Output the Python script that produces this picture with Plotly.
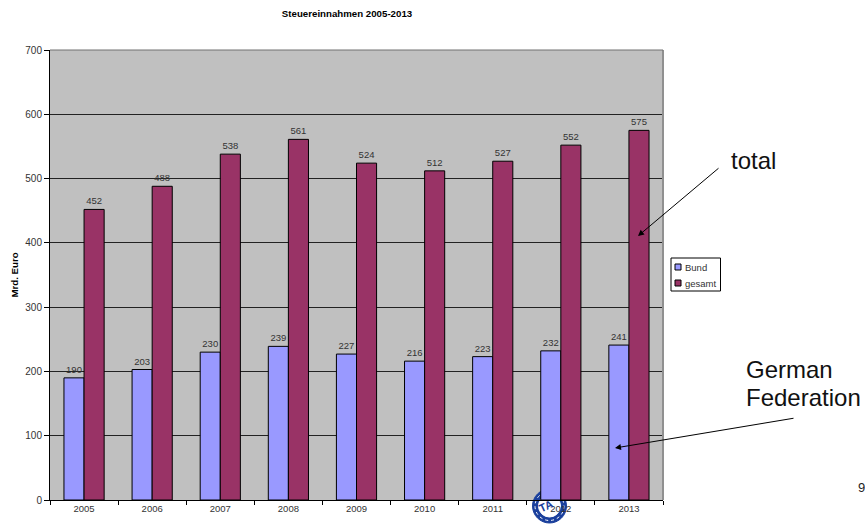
import plotly.graph_objects as go

years = ["2005", "2006", "2007", "2008", "2009", "2010", "2011", "2012", "2013"]
bund = [190, 203, 230, 239, 227, 216, 223, 232, 241]
gesamt = [452, 488, 538, 561, 524, 512, 527, 552, 575]
y_ticks = [0, 100, 200, 300, 400, 500, 600, 700]
legend_names = ["Bund", "gesamt"]
colors = ["#9999FF", "#993366"]

W, H = 865, 524
L, R, T, B = 50, 663, 50, 500
FONT = "Liberation Sans, Arial, sans-serif"

def px(x):
    return (x - L) / (R - L)

def py(y):
    return (B - y) / (B - T)

def box(kind, x0, y0, x1, y1, fill, line, width=1, layer="above", dash="solid"):
    return dict(type=kind, xref="paper", yref="paper", x0=px(x0), x1=px(x1), y0=py(y0), y1=py(y1),
                fillcolor=fill, layer=layer, line=dict(color=line, width=width, dash=dash))

def label(text, x, y, size, xanchor="left", color="#111111", **kw):
    return dict(text=text, xref="paper", yref="paper", x=px(x), y=py(y), xanchor=xanchor,
                yanchor="middle", showarrow=False, font=dict(size=size, color=color, family=FONT), **kw)

def arrow(x, y, x_from, y_from):
    return dict(text="", xref="paper", yref="paper", axref="pixel", ayref="pixel",
                x=px(x), y=py(y), ax=x_from - x, ay=y_from - y, showarrow=True, arrowhead=2,
                arrowsize=1.2, arrowwidth=1, arrowcolor="black")

fig = go.Figure()
for name, vals, col in zip(legend_names, [bund, gesamt], colors):
    fig.add_trace(go.Bar(
        name=name, x=years, y=vals, marker=dict(color=col, line=dict(color="black", width=1)),
        text=vals, textposition="outside", cliponaxis=False, showlegend=False,
        textfont=dict(size=9.5, color="#333333", family=FONT),
    ))

legend_shapes = [box("rect", 671, 258, 720.5, 291, "white", "black")]
legend_labels = []
for i, (name, col) in enumerate(zip(legend_names, colors)):
    yc = 267 + i * 16
    legend_shapes.append(box("rect", 675, yc - 3, 681, yc + 3, col, "black"))
    legend_labels.append(label(name, 683, yc, 9.5, color="#333333"))

fig.update_layout(
    width=W, height=H, autosize=False,
    margin=dict(l=L, r=W - R, t=T, b=H - B, autoexpand=False),
    paper_bgcolor="white", plot_bgcolor="#C0C0C0",
    barmode="group", bargap=0.41, bargroupgap=0,
    font=dict(family=FONT, size=9.5, color="#333333"),
    showlegend=False,
    title=dict(text="<b>Steuereinnahmen 2005-2013</b>", x=347 / W, xanchor="center",
               y=1 - 14 / H, yanchor="middle", font=dict(size=9.7, family=FONT, color="black")),
    xaxis=dict(showgrid=False, ticks="outside", ticklen=4, tickcolor="black", tickwidth=1,
               showline=True, linecolor="black", linewidth=1, tickfont=dict(size=9.5),
               tickson="boundaries", zeroline=False),
    yaxis=dict(range=[0, 700], tickvals=y_ticks, showgrid=True, gridcolor="#222222", gridwidth=1,
               ticks="outside", ticklen=5, tickcolor="black", showline=True, linecolor="black",
               linewidth=1, tickfont=dict(size=10), zeroline=False,
               title=dict(text="<b>Mrd. Euro</b>", font=dict(size=9.7, color="black"), standoff=4)),
    shapes=[
        box("line", 663, 50, 663, 500, None, "#909090", 2),
        box("line", 50, 50, 663, 50, None, "#707070", 1),
        # round stamp partly hidden by the plot area
        box("circle", 532.5, 489, 566.5, 523, "#1A3F9C", "#1A3F9C", 1, "below"),
        box("circle", 535, 491.5, 564, 520.5, None, "white", 1, "below", "dot"),
        box("circle", 538.5, 495, 560.5, 517, "white", "white", 1, "below"),
    ] + legend_shapes,
    annotations=[
        label("total", 729, 160, 24),
        label("German", 744, 369, 24),
        label("Federation", 744, 397, 24),
        label("9", 856, 487, 13, color="#222222"),
        label("<b>TA</b>", 546, 506, 11, xanchor="center", color="#1A3F9C", textangle=-25),
        arrow(638, 236, 720, 167),
        arrow(615, 448, 795, 418),
    ] + legend_labels,
)
fig.write_html("out.html", post_script="document.body.style.margin='0';",
               config={"displayModeBar": False})
